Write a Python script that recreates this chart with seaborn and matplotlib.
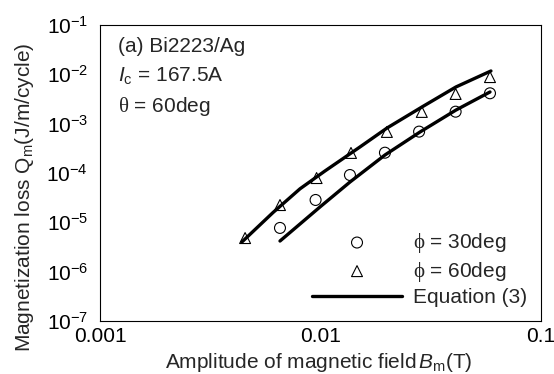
import matplotlib
matplotlib.use("Agg")
import matplotlib.pyplot as plt
import seaborn as sns
import pandas as pd
from matplotlib.ticker import FixedLocator, FixedFormatter, LogFormatterSciNotation, NullLocator

# ---- data ----
b_phi30 = [0.00655, 0.0095, 0.0136, 0.0196, 0.028, 0.041, 0.0587]
q_phi30 = [7.7e-6, 2.84e-5, 9.1e-5, 2.58e-4, 6.9e-4, 1.75e-3, 4.13e-3]

b_phi60 = [0.00455, 0.00655, 0.0096, 0.01375, 0.0200, 0.0288, 0.041, 0.0587]
q_phi60 = [4.8e-6, 2.24e-5, 7.9e-5, 2.55e-4, 6.8e-4, 1.73e-3, 4.0e-3, 8.8e-3]

b_eq30 = [0.006551, 0.008072, 0.009947, 0.01361, 0.01961, 0.02827, 0.04116, 0.05870]
q_eq30 = [4.18e-6, 9.25e-6, 2.05e-5, 6.57e-5, 2.32e-4, 6.78e-4, 1.89e-3, 4.39e-3]

b_eq60 = [0.00440, 0.00609, 0.008072, 0.01048, 0.01510, 0.02003, 0.02885, 0.04112, 0.05929]
q_eq60 = [3.99e-6, 1.58e-5, 4.78e-5, 1.10e-4, 3.37e-4, 8.16e-4, 2.18e-3, 5.54e-3, 1.17e-2]

x_ticks = [0.001, 0.01, 0.1]
x_tick_labels = ["0.001", "0.01", "0.1"]
y_ticks = [1e-7, 1e-6, 1e-5, 1e-4, 1e-3, 1e-2, 1e-1]

legend_labels = [r"$\mathrm{\phi}$ = 30deg", r"$\mathrm{\phi}$ = 60deg", "Equation (3)"]

# ---- style ----
sns.set_theme(style="white")
plt.rcParams["font.family"] = ["Liberation Sans", "DejaVu Sans"]
plt.rcParams["mathtext.fontset"] = "custom"
plt.rcParams["mathtext.rm"] = "Liberation Serif"
plt.rcParams["mathtext.it"] = "Liberation Sans:italic"
plt.rcParams["mathtext.sf"] = "Liberation Sans"
FS = 15

fig = plt.figure(figsize=(5.54, 3.74), dpi=100)
ax = fig.add_axes([100 / 554, 53 / 374, 441 / 554, 296 / 374])

df30 = pd.DataFrame({"B": b_phi30, "Q": q_phi30})
df60 = pd.DataFrame({"B": b_phi60, "Q": q_phi60})
dfe30 = pd.DataFrame({"B": b_eq30, "Q": q_eq30})
dfe60 = pd.DataFrame({"B": b_eq60, "Q": q_eq60})

sns.scatterplot(data=df30, x="B", y="Q", ax=ax, marker="o", s=62,
                facecolor="none", edgecolor="black", linewidth=0.8,
                label=legend_labels[0], zorder=2, legend=False)
sns.scatterplot(data=df60, x="B", y="Q", ax=ax, marker="^", s=62,
                facecolor="none", edgecolor="black", linewidth=0.8,
                label=legend_labels[1], zorder=2, legend=False)
sns.lineplot(data=dfe30, x="B", y="Q", ax=ax, color="black", linewidth=2.4,
             label=legend_labels[2], zorder=3, legend=False)
sns.lineplot(data=dfe60, x="B", y="Q", ax=ax, color="black", linewidth=2.4,
             zorder=3, legend=False)

ax.set_xscale("log")
ax.set_yscale("log")
ax.set_xlim(0.001, 0.1)
ax.set_ylim(1e-7, 1e-1)
ax.xaxis.set_major_locator(FixedLocator(x_ticks))
ax.xaxis.set_major_formatter(FixedFormatter(x_tick_labels))
ax.xaxis.set_minor_locator(NullLocator())
ax.yaxis.set_major_locator(FixedLocator(y_ticks))
ax.yaxis.set_major_formatter(LogFormatterSciNotation())
ax.yaxis.set_minor_locator(NullLocator())
ax.tick_params(axis="x", length=0, pad=4, labelsize=FS, colors="black")
ax.tick_params(axis="y", length=0, pad=8.5, labelsize=FS, colors="black")
ax.set_xlabel("")
ax.set_ylabel("")
for sp in ax.spines.values():
    sp.set_color("black")
    sp.set_linewidth(0.8)
    sp.set_visible(True)
ax.grid(False)

# legend
handles, labels = ax.get_legend_handles_labels()
order = [labels.index(l) for l in legend_labels]
ax.legend([handles[i] for i in order], [labels[i] for i in order],
          loc="upper left", bbox_to_anchor=((311.7 - 100) / 441, (321 - 231) / 296),
          frameon=False, fontsize=FS, handlelength=4.35, handletextpad=0.5,
          labelspacing=0.22, borderpad=0, borderaxespad=0)

# annotations
ax.text(0.041, 0.910, "(a) Bi2223/Ag", transform=ax.transAxes, fontsize=FS, va="baseline", ha="left")
ax.text(0.041, 0.808, r"$\mathit{I}_{\mathsf{c}}$ = 167.5A", transform=ax.transAxes, fontsize=FS, va="baseline", ha="left")
ax.text(0.041, 0.707, r"$\mathrm{\theta}$ = 60deg", transform=ax.transAxes, fontsize=FS, va="baseline", ha="left")

# axis labels
fig.text(25 / 554, 1 - 197 / 374, r"Magnetization loss Q$_{\mathsf{m}}$(J/m/cycle)",
         rotation=90, ha="center", va="center", fontsize=FS)
fig.text(319 / 554, (374 - 368) / 374, r"Amplitude of magnetic field$\,\mathit{B}_{\mathsf{m}}$(T)",
         ha="center", va="baseline", fontsize=FS)

fig.savefig("out.png", dpi=100)
